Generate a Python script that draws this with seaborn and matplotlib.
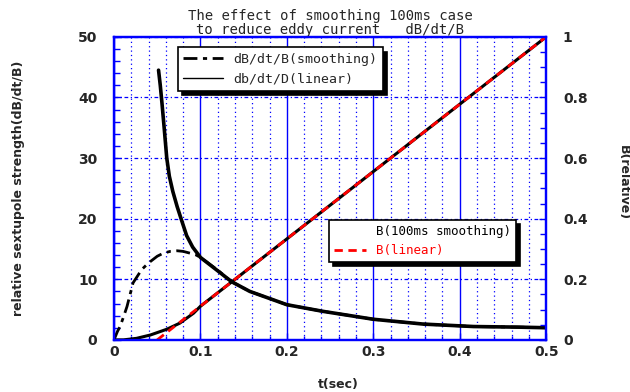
import matplotlib
matplotlib.use("Agg")
import matplotlib.pyplot as plt
from matplotlib.lines import Line2D
from matplotlib.ticker import MultipleLocator
import seaborn as sns

# dB/dt/B with 100 ms smoothing (dash-dot)
t_rate_smooth = [0.0, 0.004, 0.007, 0.011, 0.015, 0.022, 0.032, 0.040, 0.050, 0.057,
                 0.065, 0.073, 0.080, 0.088, 0.095, 0.100, 0.120, 0.136, 0.157, 0.200,
                 0.242, 0.300, 0.358, 0.416, 0.468, 0.500]
rate_smooth = [0.0, 1.4, 2.2, 3.8, 5.5, 9.4, 11.6, 12.7, 13.8, 14.3,
               14.6, 14.7, 14.6, 14.3, 14.0, 13.6, 11.5, 9.6, 8.0, 5.8,
               4.7, 3.4, 2.6, 2.2, 2.1, 2.0]

# dB/dt/B linear ramp (solid)
t_rate_linear = [0.0515, 0.0535, 0.0555, 0.058, 0.061, 0.064, 0.068, 0.073, 0.078, 0.084,
                 0.091, 0.100, 0.119, 0.136, 0.157, 0.200, 0.242, 0.300, 0.358, 0.416,
                 0.468, 0.500]
rate_linear = [44.5, 42.0, 39.0, 35.0, 30.0, 27.0, 24.5, 22.0, 19.8, 17.2,
               15.3, 13.6, 11.5, 9.6, 8.0, 5.8, 4.7, 3.4, 2.6, 2.2,
               2.1, 2.0]

# B (relative), right axis
t_b_smooth = [0.0, 0.011, 0.026, 0.042, 0.061, 0.076, 0.092, 0.100, 0.500]
b_smooth = [0.0, 0.0, 0.005, 0.016, 0.035, 0.055, 0.088, 0.111, 1.0]
t_b_linear = [0.05, 0.5]
b_linear = [0.0, 1.0]

blue = "#0000ff"
mono = "DejaVu Sans Mono"
dashdot = (0, (5, 2, 1.5, 2))

sns.set_style("white")
fig, ax = plt.subplots(figsize=(6.3, 3.92), dpi=100)
fig.subplots_adjust(left=0.181, right=0.867, top=0.906, bottom=0.133)
ax2 = ax.twinx()

# grid
ax.xaxis.set_major_locator(MultipleLocator(0.1))
ax.xaxis.set_minor_locator(MultipleLocator(0.02))
ax.yaxis.set_major_locator(MultipleLocator(10))
ax.yaxis.set_minor_locator(MultipleLocator(2))
ax.grid(True, which="major", axis="x", color=blue, lw=1, ls="-")
ax.grid(True, which="minor", axis="x", color=blue, lw=0.9, ls=(0, (1, 2.5)))
ax.grid(True, which="major", axis="y", color=blue, lw=0.9, ls=(0, (3, 2, 1, 2)))
ax.set_axisbelow(True)

sns.lineplot(x=t_rate_smooth, y=rate_smooth, ax=ax, color="black", lw=2,
             linestyle=dashdot, sort=False)
sns.lineplot(x=t_rate_linear, y=rate_linear, ax=ax, color="black", lw=2.6, sort=False)

sns.lineplot(x=t_b_smooth, y=b_smooth, ax=ax2, color="black", lw=2.2, sort=False)
sns.lineplot(x=t_b_linear, y=b_linear, ax=ax2, color="red", lw=2,
             linestyle=(0, (3, 2)), sort=False)

ax.set_xlim(0, 0.5)
ax.set_ylim(0, 50)
ax2.set_ylim(0, 1)
ax2.yaxis.set_major_locator(MultipleLocator(0.2))
ax2.yaxis.set_minor_locator(MultipleLocator(0.05))

ax.set_xticks([0, 0.1, 0.2, 0.3, 0.4, 0.5])
ax.set_xticklabels(["0", "0.1", "0.2", "0.3", "0.4", "0.5"])
ax2.set_yticks([0, 0.2, 0.4, 0.6, 0.8, 1.0])
ax2.set_yticklabels(["0", "0.2", "0.4", "0.6", "0.8", "1"])

for a in (ax, ax2):
    for s in a.spines.values():
        s.set_color(blue)
        s.set_linewidth(1.6)
        s.set_visible(True)
ax.tick_params(axis="both", which="both", direction="in", color=blue,
               labelsize=10, width=1)
ax.tick_params(axis="y", which="major", length=5, pad=12, left=True)
ax.tick_params(axis="y", which="minor", length=4, left=True)
ax.tick_params(axis="x", which="major", length=5, pad=4, bottom=True)
ax.tick_params(axis="x", which="minor", length=3, bottom=True)
ax2.tick_params(axis="y", which="both", direction="in", color=blue,
                labelsize=10, width=1, pad=12, right=True)
ax2.tick_params(axis="y", which="major", length=5)
ax2.tick_params(axis="y", which="minor", length=4)
for lab in ax.get_xticklabels() + ax.get_yticklabels() + ax2.get_yticklabels():
    lab.set_fontweight("bold")

ax.set_title("The effect of smoothing 100ms case\nto reduce eddy current   dB/dt/B",
             family=mono, fontsize=10, linespacing=0.95, pad=2)
ax.set_xlabel("t(sec)", fontsize=9, fontweight="bold")
ax.xaxis.set_label_coords(0.52, -0.125)
ax.set_ylabel("relative sextupole strength(dB/dt/B)", fontsize=9, fontweight="bold")
ax.yaxis.set_label_coords(-0.205, 0.5)
ax2.set_ylabel("B(relative)", fontsize=9, fontweight="bold", rotation=270,
               va="center")
ax2.yaxis.set_label_coords(1.178, 0.52)

shadow = {"color": "black", "alpha": 1, "ox": 3, "oy": -3}

h1 = [Line2D([], [], color="black", lw=2, linestyle=dashdot),
      Line2D([], [], color="black", lw=1)]
leg1 = ax2.legend(h1, ["dB/dt/B(smoothing)", "db/dt/D(linear)"],
                  loc="upper left", bbox_to_anchor=(0.148, 0.965),
                  borderaxespad=0, fancybox=False, framealpha=1,
                  edgecolor="black", shadow=shadow, handlelength=3,
                  prop={"family": mono, "size": 9.5})
leg1.get_frame().set_linewidth(1.2)
ax2.add_artist(leg1)

h2 = [Line2D([], [], color="white", lw=0),
      Line2D([], [], color="red", lw=2, linestyle=(0, (3, 2)))]
leg2 = ax2.legend(h2, ["B(100ms smoothing)", "B(linear)"],
                  loc="upper left", bbox_to_anchor=(0.498, 0.396),
                  borderaxespad=0, fancybox=False, framealpha=1,
                  edgecolor="black", shadow=shadow, handlelength=2.5,
                  labelcolor=["black", "red"],
                  prop={"family": mono, "size": 9})
leg2.get_frame().set_linewidth(1.2)

fig.savefig("out.png", dpi=100)
